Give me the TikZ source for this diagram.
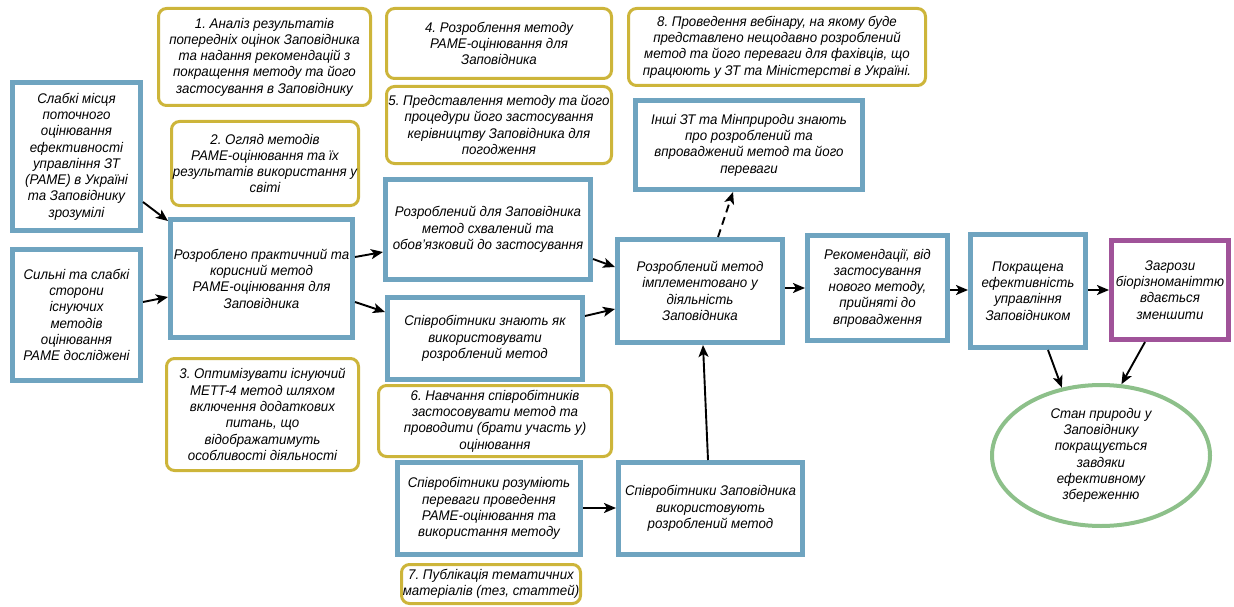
\documentclass[tikz,border=0pt]{standalone}
\usepackage{fontspec}
\setmainfont{Liberation Sans}[FakeStretch=0.95]
\usetikzlibrary{arrows.meta,shapes.geometric}
\definecolor{pblue}{HTML}{6FA4C0}
\definecolor{pyel}{HTML}{CDB53A}
\definecolor{ppur}{HTML}{A05399}
\definecolor{pgrn}{HTML}{8DC08A}
\tikzset{
  txt/.style={font=\itshape\fontsize{14}{16.3}\selectfont\frenchspacing, align=center, text=black, inner sep=0pt},
  bx/.style 2 args={txt, draw=pblue, line width=5pt, fill=white,
    minimum width=#1pt-5pt, minimum height=#2pt-5pt},
  px/.style 2 args={txt, draw=ppur, line width=5pt, fill=white,
    minimum width=#1pt-5pt, minimum height=#2pt-5pt},
  yx/.style 2 args={txt, draw=pyel, line width=3pt, rounded corners=8pt, fill=white,
    minimum width=#1pt-3pt, minimum height=#2pt-3pt},
  conn/.style={line width=1.9pt, -{Stealth[length=12pt,width=10pt,inset=3pt]}},
}
\begin{document}
\begin{tikzpicture}[x=1pt,y=-1pt]
\useasboundingbox (0,0) rectangle (1234,607);
% blue boxes
\node[bx={133}{153}] (A) at (76.5,156.5) {Слабкі місця\\поточного\\оцінювання\\ефективності\\управління ЗТ\\(PAME) в Україні\\та Заповіднику\\зрозумілі};
\node[bx={133}{136}] (B) at (76.5,315) {Сильні та слабкі\\сторони\\існуючих\\методів\\оцінювання\\PAME досліджені};
\node[bx={187}{123}] (C) at (261.5,278.5) {Розроблено практичний та\\корисний метод\\PAME-оцінювання для\\Заповідника};
\node[bx={210}{105}] (D) at (488,229.5) {Розроблений для Заповідника\\метод схвалений та\\обов’язковий до застосування};
\node[bx={200}{87}] (E) at (485,338.5) {Співробітники знають як\\використовувати\\розроблений метод};
\node[bx={188}{97}] (F) at (489,508.5) {Співробітники розуміють\\переваги проведення\\PAME-оцінювання та\\використання методу};
\node[bx={189}{97}] (G) at (710.5,508.5) {Співробітники Заповідника\\використовують\\розроблений метод};
\node[bx={170}{108}] (H) at (700,291) {Розроблений метод\\імплементовано у\\діяльність\\Заповідника};
\node[bx={232}{94}] (I) at (749,145) {Інші ЗТ та Мінприроди знають\\про розроблений та\\впроваджений метод та його\\переваги};
\node[bx={145}{110}] (J) at (877.5,288) {Рекомендації, від\\застосування\\нового методу,\\прийняті до\\впровадження};
\node[bx={120}{118}] (K) at (1028,291) {Покращена\\ефективність\\управління\\Заповідником};
\node[px={122}{104}] (L) at (1170,290) {Загрози\\біорізноманіттю\\вдається\\зменшити};
\node[txt, ellipse, draw=pgrn, line width=4pt, minimum width=218pt, minimum height=141pt] (Ell) at (1101,455.5) {Стан природи у\\Заповіднику\\покращується\\завдяки\\ефективному\\збереженню};
% yellow boxes
\node[yx={215}{100}] (Y1) at (264.5,57) {1. Аналіз результатів\\попередніх оцінок Заповідника\\та надання рекомендацій з\\покращення методу та його\\застосування в Заповіднику};
\node[yx={190}{87}] (Y2) at (265,163.5) {2. Огляд методів\\PAME-оцінювання та їх\\результатів використання у\\світі};
\node[yx={195}{115}] (Y3) at (262.5,414.5) {3. Оптимізувати існуючий\\METT-4 метод шляхом\\включення додаткових\\питань, що\\відображатимуть\\особливості діяльності};
\node[yx={228}{73}] (Y4) at (499,43.5) {4. Розроблення методу\\PAME-оцінювання для\\Заповідника};
\node[yx={228}{80}] (Y5) at (499,125) {5. Представлення методу та його\\процедури його застосування\\керівництву Заповідника для\\погодження};
\node[yx={236}{74}] (Y6) at (495,421) {6. Навчання співробітників\\застосовувати метод та\\проводити (брати участь у)\\оцінювання};
\node[yx={182}{42}] (Y7) at (491,584) {7. Публікація тематичних\\матеріалів (тез, статтей)};
\node[yx={300}{80}] (Y8) at (777,47) {8. Проведення вебінару, на якому буде\\представлено нещодавно розроблений\\метод та його переваги для фахівців, що\\працюють у ЗТ та Міністерстві в Україні.};
% connectors
\draw[conn] (A.east |- 0,202) -- (C.west |- 0,221);
\draw[conn] (B.east |- 0,302) -- (C.west |- 0,297);
\draw[conn] (C.east |- 0,257) -- (D.west |- 0,252);
\draw[conn] (C.east |- 0,302) -- (E.west |- 0,312);
\draw[conn] (D.east |- 0,259) -- (H.west |- 0,267);
\draw[conn] (E.east |- 0,316) -- (H.west |- 0,309);
\draw[conn] (F.east |- 0,508) -- (G.west |- 0,508);
\draw[conn] (708,0 |- G.north) -- (703,0 |- H.south);
\draw[conn, dashed, dash pattern=on 8pt off 5pt] (718,0 |- H.north) -- (733,0 |- I.south);
\draw[conn] (H.east |- 0,288) -- (J.west |- 0,288);
\draw[conn] (J.east |- 0,290) -- (K.west |- 0,290);
\draw[conn] (K.east |- 0,290) -- (L.west |- 0,290);
\draw[conn] (1048,0 |- K.south) -- (Ell.120);
\draw[conn] (1145,0 |- L.south) -- (Ell.74);
\end{tikzpicture}
\end{document}
